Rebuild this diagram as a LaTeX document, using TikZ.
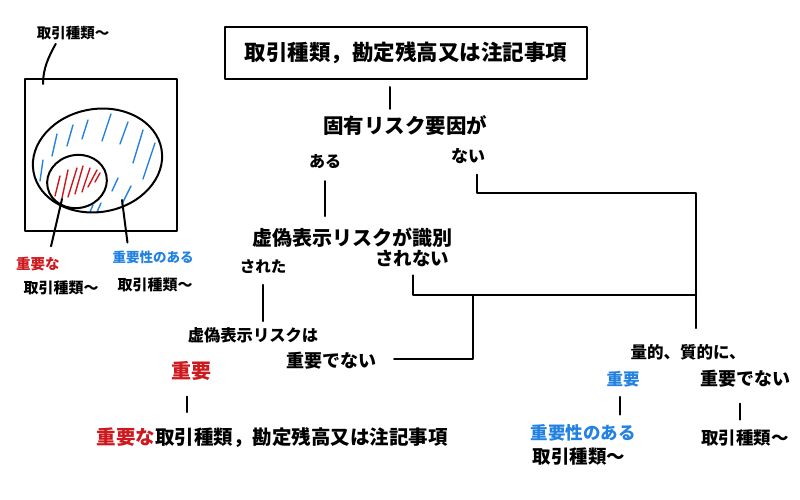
\documentclass[tikz,border=0pt]{standalone}
\usepackage{fontspec}
\newfontfamily\jp{Noto Sans CJK JP}
\usetikzlibrary{calc}
\definecolor{hred}{RGB}{205,25,30}
\definecolor{hblue}{RGB}{35,130,225}
\begin{document}
\begin{tikzpicture}[x=1pt,y=-1pt,
  line width=2pt, line cap=round, line join=round,
  fs/.style={font=\jp\bfseries\fontsize{#1}{#1}\selectfont, inner sep=1pt},
  redhatch/.style={hred, line width=1.4pt},
  bluehatch/.style={hblue, line width=1.4pt},
]
\useasboundingbox (0,0) rectangle (800,500);

% ---------- tree ----------
\node[draw, line width=2pt, minimum width=362pt, minimum height=52pt, fs=21.5] (box) at (406,53) {取引種類，勘定残高又は注記事項};
\node[fs=20.5] (koyu) at (405,126) {固有リスク要因が};
\node[fs=16] (aru) at (325,162) {ある};
\node[fs=17] (nai) at (468,156) {ない};
\node[fs=20] (kyogi1) at (352,238) {虚偽表示リスクが識別};
\node[fs=15.5] (sareta) at (263,267) {された};
\node[fs=18.5] (sarenai) at (412,258) {されない};
\node[fs=16.3] (kyogi2) at (253,335) {虚偽表示リスクは};
\node[fs=20, text=hred] (juyo1) at (191,371) {重要};
\node[fs=18] (juyodenai1) at (331,361) {重要でない};
\node[fs=19.5] (bottom) at (272,438) {\textcolor{hred}{重要な}取引種類，勘定残高又は注記事項};

\node[fs=16.5] (ryoteki) at (688,352) {量的、質的に、};
\node[fs=16.5, text=hblue] (juyo2) at (623,379) {重要};
\node[fs=18] (juyodenai2) at (745,379) {重要でない};
\node[fs=17.5, text=hblue] (juyosei) at (583,433) {重要性のある};
\node[fs=18.5] (torihiki2) at (579,457) {取引種類〜};
\node[fs=17.5] (torihiki3) at (745,438) {取引種類〜};

\coordinate (j1) at (696,193);
\coordinate (j2) at (696,295);
\coordinate (j3) at (473,295);

\draw[shorten <=7pt, shorten >=5pt] ($(box.south)+(-16,0)$) -- ($(koyu.north)+(-15,0)$);
\draw[shorten <=10pt, shorten >=10pt] (aru.south) -- (aru.south |- kyogi1.north);
\draw[shorten <=9pt] ($(nai.south)+(9,0)$) |- (j1) -- ($(j1 |- ryoteki.north)+(0,-14)$);
\draw[shorten <=7pt] ($(sarenai.south)+(1,0)$) |- (j2);
\draw (j3) |- ($(juyodenai1.east)+(16,-2)$);
\draw[shorten <=9pt, shorten >=4pt] (sareta.south) -- (sareta.south |- kyogi2.north);
\draw[shorten <=14pt, shorten >=14pt] ($(juyo1.south)+(-4,0)$) -- ($(juyo1.south |- bottom.north)+(-4,0)$);
\draw[shorten <=8pt, shorten >=8pt] ($(juyo2.south)+(-3,0)$) -- ($(juyo2.south |- juyosei.north)+(-3,0)$);
\draw[shorten <=14pt, shorten >=8pt] ($(juyodenai2.south)+(-5,0)$) -- ($(juyodenai2.south |- torihiki3.north)+(-5,0)$);

% ---------- left panel ----------
\node[fs=14.5] (lt) at (73,33) {取引種類〜};
\node[fs=14.5, text=hred] (lred) at (38,264) {重要な};
\node[fs=15] (lblk1) at (61,288) {取引種類〜};
\node[fs=13.5, text=hblue] (lblue) at (153,257) {重要性のある};
\node[fs=15] (lblk2) at (155,285) {取引種類〜};

\draw (25,79) rectangle (177,231);
\coordinate (lbox) at (43,84);
\draw (lt.south west) ++(21,2) .. controls (49,56) and (43,68) .. (lbox);

% blue hatch
\foreach \a/\b/\c/\d in {40/181/43/160, 52/156/57/134, 67/146/73/125, 82/139/88/120,
  102/141/111/114, 120/144/128/122, 133/163/143/130, 143/179/155/143,
  112/191/118/178, 122/204/131/186, 90/212/93/205, 97/212/101/203}
  \draw[bluehatch] (\a,\b) -- (\c,\d);
% red hatch
\foreach \a/\b/\c/\d in {55/196/60/176, 62/198/68/170, 68/197/77/168, 75/194/83/166,
  82/192/90/168, 88/187/97/170, 95/182/100/173}
  \draw[redhatch] (\a,\b) -- (\c,\d);

\draw[rotate around={10:(97.5,160.5)}] (97.5,160.5) ellipse (65 and 51.5);
\draw[rotate around={12:(77,181.5)}] (77,181.5) ellipse (30 and 26.5);

\coordinate (sme) at (62,199);
\coordinate (bge) at (122,200);
\draw[shorten >=9pt] (sme) -- ($(lred.north)+(11,0)$);
\draw[shorten >=4pt] (bge) -- ($(lblue.north)+(-25,-2)$);
\end{tikzpicture}
\end{document}
